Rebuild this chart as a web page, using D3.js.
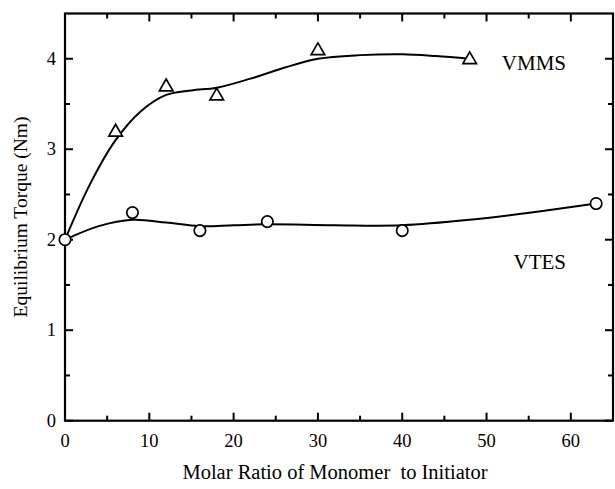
<!DOCTYPE html>
<html><head><meta charset="utf-8">
<script src="https://cdn.jsdelivr.net/npm/d3@7"></script>
<style>body{margin:0;background:#fff}svg{display:block}text{font-family:"Liberation Serif","Times New Roman",serif;fill:#000}</style>
</head><body><svg id="c" width="615" height="489"></svg>
<script>
// Measured data
const vmmsX = [6, 12, 18, 30, 48];
const vmmsY = [3.2, 3.7, 3.6, 4.1, 4.0];
const vtesX = [0, 8, 16, 24, 40, 63];
const vtesY = [2.0, 2.3, 2.1, 2.2, 2.1, 2.4];
// Smooth fit curves
const vmmsFitX = [0, 3, 6, 9, 12, 15, 18, 22, 26, 30, 35, 40, 44, 48];
const vmmsFitY = [2.0, 2.62, 3.1, 3.42, 3.6, 3.65, 3.68, 3.78, 3.9, 4.0, 4.04, 4.05, 4.03, 4.0];
const vtesFitX = [0, 4, 8, 12, 16, 20, 24, 32, 40, 48, 56, 63];
const vtesFitY = [2.0, 2.15, 2.22, 2.19, 2.15, 2.16, 2.17, 2.16, 2.16, 2.22, 2.31, 2.4];
const xTicks = [0, 10, 20, 30, 40, 50, 60];
const yTicks = [0, 1, 2, 3, 4];
const xMinor = [5, 15, 25, 35, 45, 55];
const yMinor = [0.5, 1.5, 2.5, 3.5];
const seriesLabels = [{text: "VMMS", y: 3.95}, {text: "VTES", y: 1.75}];

const svg = d3.select("#c");
const L = 65, R = 613, T = 13.5, B = 420.7;
const x = d3.scaleLinear().domain([0, 65]).range([L, R]);
const y = d3.scaleLinear().domain([0, 4.5]).range([B, T]);

// frame
svg.append("rect").attr("x", L).attr("y", T).attr("width", R - L).attr("height", B - T)
  .attr("fill", "none").attr("stroke", "#000").attr("stroke-width", 2.2);

const tickG = svg.append("g").attr("stroke", "#000").attr("stroke-width", 2);
xTicks.forEach(v => {
  tickG.append("line").attr("x1", x(v)).attr("x2", x(v)).attr("y1", B).attr("y2", B - 8);
  tickG.append("line").attr("x1", x(v)).attr("x2", x(v)).attr("y1", T).attr("y2", T + 8);
});
xMinor.forEach(v => {
  tickG.append("line").attr("x1", x(v)).attr("x2", x(v)).attr("y1", B).attr("y2", B - 5);
  tickG.append("line").attr("x1", x(v)).attr("x2", x(v)).attr("y1", T).attr("y2", T + 5);
});
yTicks.forEach(v => {
  tickG.append("line").attr("x1", L).attr("x2", L + 8).attr("y1", y(v)).attr("y2", y(v));
  tickG.append("line").attr("x1", R).attr("x2", R - 8).attr("y1", y(v)).attr("y2", y(v));
});
yMinor.forEach(v => {
  tickG.append("line").attr("x1", L).attr("x2", L + 5).attr("y1", y(v)).attr("y2", y(v));
  tickG.append("line").attr("x1", R).attr("x2", R - 5).attr("y1", y(v)).attr("y2", y(v));
});

// tick labels
svg.append("g").selectAll("text").data(xTicks).join("text")
  .attr("x", d => x(d)).attr("y", 447).attr("text-anchor", "middle")
  .attr("font-size", 18.5).text(d => d);
svg.append("g").selectAll("text").data(yTicks).join("text")
  .attr("x", 56).attr("y", d => y(d) + 6).attr("text-anchor", "end")
  .attr("font-size", 18.5).text(d => d);

// axis titles
svg.append("text").attr("x", 335).attr("y", 479).attr("text-anchor", "middle")
  .attr("font-size", 20.5).text("Molar Ratio of Monomer\u00a0 to Initiator");
svg.append("text").attr("transform", "translate(27,217) rotate(-90)")
  .attr("text-anchor", "middle").attr("font-size", 19.5).text("Equilibrium Torque (Nm)");

// fit curves
const line = d3.line().x(d => x(d[0])).y(d => y(d[1])).curve(d3.curveCatmullRom.alpha(0.5));
svg.append("path").datum(vmmsFitX.map((v, i) => [v, vmmsFitY[i]]))
  .attr("d", line).attr("fill", "none").attr("stroke", "#000").attr("stroke-width", 2);
svg.append("path").datum(vtesFitX.map((v, i) => [v, vtesFitY[i]]))
  .attr("d", line).attr("fill", "none").attr("stroke", "#000").attr("stroke-width", 2);

// markers
const tri = d3.symbol().type(d3.symbolTriangle).size(80);
svg.append("g").selectAll("path").data(vmmsX.map((v, i) => [v, vmmsY[i]])).join("path")
  .attr("transform", d => `translate(${x(d[0])},${y(d[1]) + 1})`)
  .attr("d", tri).attr("fill", "#fff").attr("stroke", "#000").attr("stroke-width", 1.7);
svg.append("g").selectAll("circle").data(vtesX.map((v, i) => [v, vtesY[i]])).join("circle")
  .attr("cx", d => x(d[0])).attr("cy", d => y(d[1])).attr("r", 5.7)
  .attr("fill", "#fff").attr("stroke", "#000").attr("stroke-width", 1.7);

// series labels
svg.append("g").selectAll("text").data(seriesLabels).join("text")
  .attr("x", 566).attr("y", d => y(d.y) + 7).attr("text-anchor", "end")
  .attr("font-size", 21).text(d => d.text);
</script></body></html>
